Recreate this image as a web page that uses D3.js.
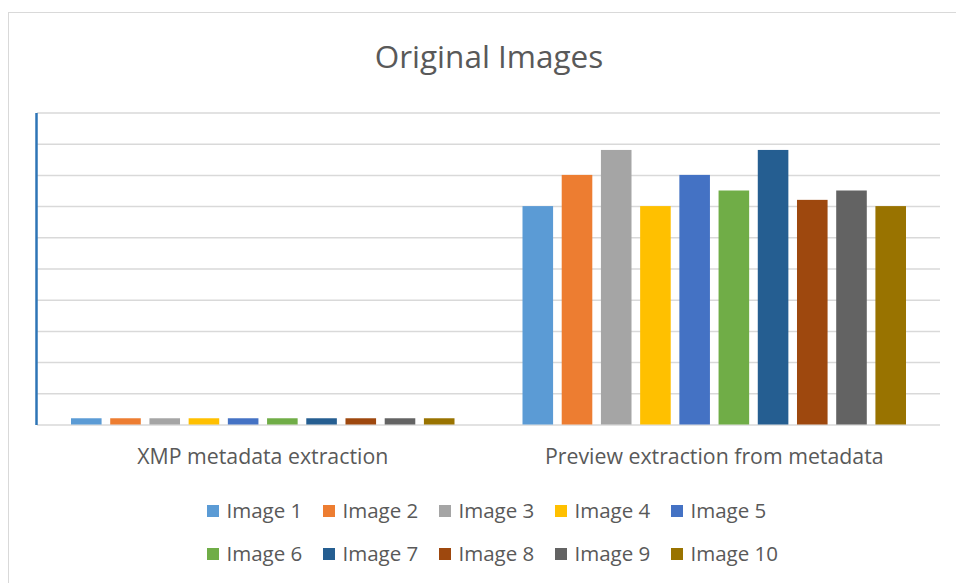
<!DOCTYPE html>
<html>
<head>
<meta charset="utf-8">
<script src="https://cdn.jsdelivr.net/npm/d3@7"></script>
<style>
  html, body { margin: 0; padding: 0; background: #ffffff; }
  svg { display: block; font-family: "Open Sans", sans-serif; }
</style>
</head>
<body>
<svg id="chart" width="956" height="583"></svg>
<script>
// Categories along the x axis
const categories = ["XMP metadata extraction", "Preview extraction from metadata"];
// One series per image
const seriesNames = ["Image 1", "Image 2", "Image 3", "Image 4", "Image 5",
                     "Image 6", "Image 7", "Image 8", "Image 9", "Image 10"];
// Values per series, in category order
const xmpValues     = [0.2, 0.2, 0.2, 0.2, 0.2, 0.2, 0.2, 0.2, 0.2, 0.2];
const previewValues = [7, 8, 8.8, 7, 8, 7.5, 8.8, 7.2, 7.5, 7];
const seriesColors  = ["#5B9BD5", "#ED7D31", "#A5A5A5", "#FFC000", "#4472C4",
                       "#70AD47", "#255E91", "#9E480E", "#636363", "#997300"];
const yTicks = d3.range(0, 11, 1);
const titleText = "Original Images";

const data = categories.map((c, ci) => ({
  category: c,
  values: seriesNames.map((s, si) => ({
    series: s,
    value: ci === 0 ? xmpValues[si] : previewValues[si]
  }))
}));

const svg = d3.select("#chart");

// Chart area frame
svg.append("rect")
  .attr("x", 8.5).attr("y", 12.5)
  .attr("width", 960).attr("height", 600)
  .attr("fill", "#ffffff")
  .attr("stroke", "#D9D9D9").attr("stroke-width", 1);

const plot = { left: 37, right: 940, top: 112.5, bottom: 424.5 };

const y = d3.scaleLinear().domain([0, 10]).range([plot.bottom, plot.top]);
const x0 = d3.scaleBand().domain(categories).range([plot.left, plot.right]).padding(0);
const inset = 34;
const x1 = d3.scaleBand().domain(seriesNames)
  .range([inset, x0.bandwidth() - inset])
  .paddingInner(0.22).paddingOuter(0);
const color = d3.scaleOrdinal().domain(seriesNames).range(seriesColors);

// Horizontal gridlines
svg.append("g")
  .attr("class", "grid")
  .attr("transform", `translate(${plot.left},0)`)
  .call(d3.axisRight(y).tickValues(yTicks).tickSize(plot.right - plot.left).tickFormat(""))
  .call(g => g.select(".domain").remove())
  .call(g => g.selectAll(".tick line").attr("stroke", "#D9D9D9").attr("stroke-width", 1.5));

// Bars
const groups = svg.append("g").selectAll("g")
  .data(data).join("g")
  .attr("transform", d => `translate(${x0(d.category)},0)`);

groups.selectAll("rect")
  .data(d => d.values).join("rect")
  .attr("x", d => x1(d.series))
  .attr("y", d => y(d.value))
  .attr("width", x1.bandwidth())
  .attr("height", d => y(0) - y(d.value))
  .attr("fill", d => color(d.series));

// Vertical axis line
svg.append("g")
  .attr("transform", `translate(${plot.left - 1},0)`)
  .call(d3.axisLeft(y).tickValues([]).tickSizeOuter(0))
  .call(g => g.select(".domain").attr("stroke", "#2E75B6").attr("stroke-width", 2.5));

// Category labels
svg.append("g")
  .attr("transform", `translate(0,${plot.bottom})`)
  .call(d3.axisBottom(x0).tickSize(0).tickPadding(0))
  .call(g => g.select(".domain").remove())
  .call(g => g.selectAll(".tick text")
    .attr("dy", 0).attr("y", 39)
    .attr("fill", "#595959")
    .attr("font-family", "'Open Sans', sans-serif")
    .attr("font-size", 21.3));

// Title
svg.append("text")
  .attr("x", 489).attr("y", 68)
  .attr("text-anchor", "middle")
  .attr("fill", "#595959")
  .attr("font-size", 31.5)
  .text(titleText);

// Legend: two rows of five
const legendCols = 5;
const legendX0 = 207, legendStep = 116;
const legendRowY = [505, 548];
const legend = svg.append("g").selectAll("g")
  .data(seriesNames).join("g")
  .attr("transform", (d, i) =>
    `translate(${legendX0 + (i % legendCols) * legendStep},${legendRowY[Math.floor(i / legendCols)]})`);

legend.append("rect")
  .attr("width", 12).attr("height", 12)
  .attr("fill", d => color(d));

legend.append("text")
  .attr("x", 19.5).attr("y", 12.8)
  .attr("fill", "#595959")
  .attr("font-size", 20.5)
  .text(d => d);
</script>
</body>
</html>
